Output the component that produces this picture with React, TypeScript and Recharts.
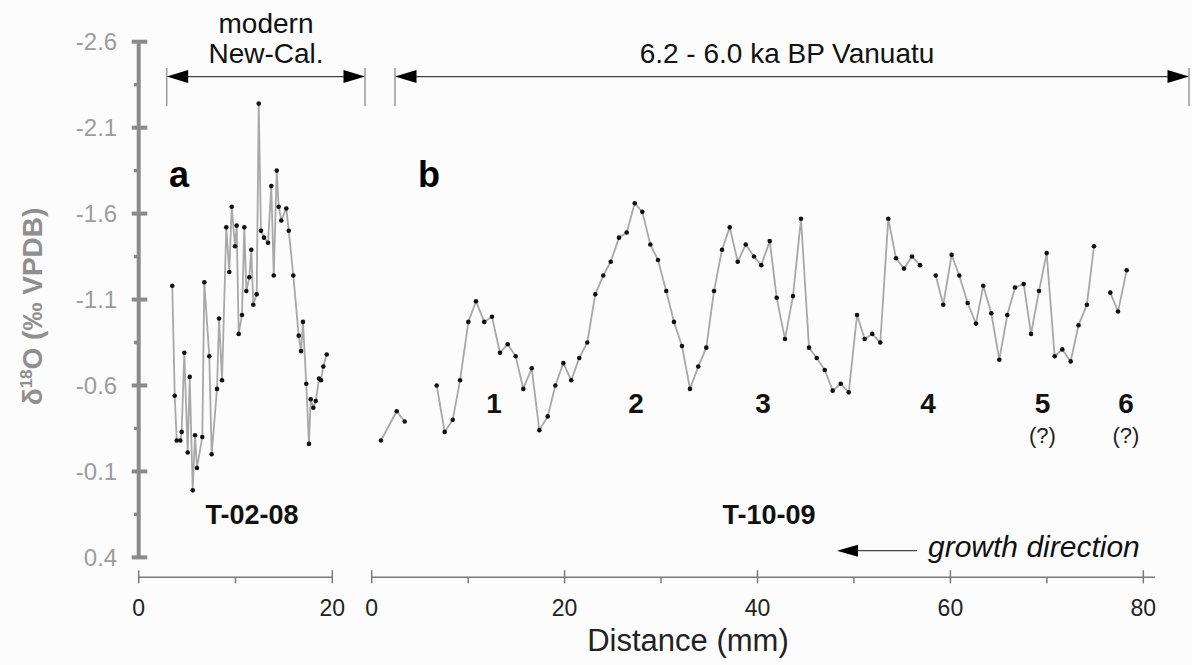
import React from 'react';
import { LineChart, Line, XAxis, YAxis, ReferenceLine } from 'recharts';

// ---------- data ----------
// Panel a: modern New-Caledonia coral T-02-08
const A_DISTANCE = [3.47, 3.72, 3.93, 4.30, 4.44, 4.71, 5.06, 5.27, 5.58, 5.82, 6.02, 6.57, 6.78, 7.29, 7.54, 8.09, 8.30, 8.61, 9.05, 9.36, 9.61, 9.95, 10.12, 10.33, 10.67, 10.91, 11.12, 11.43, 11.63, 11.84, 12.19, 12.40, 12.63, 12.94, 13.36, 13.70, 13.95, 14.26, 14.46, 14.73, 15.25, 15.50, 15.97, 16.53, 16.77, 16.97, 17.31, 17.59, 17.77, 18.04, 18.29, 18.63, 18.83, 19.07, 19.42];
const A_D18O = [-1.18, -0.54, -0.28, -0.28, -0.33, -0.79, -0.21, -0.65, 0.01, -0.31, -0.12, -0.30, -1.20, -0.77, -0.20, -0.58, -0.99, -0.63, -1.52, -1.26, -1.64, -1.41, -1.53, -0.90, -1.01, -1.52, -1.15, -1.23, -1.39, -1.07, -1.13, -2.24, -1.50, -1.46, -1.43, -1.76, -1.24, -1.85, -1.64, -1.56, -1.63, -1.50, -1.24, -0.89, -0.80, -0.97, -0.61, -0.26, -0.52, -0.47, -0.51, -0.64, -0.63, -0.71, -0.78];

// Panel b: 6.2-6.0 ka BP Vanuatu coral T-10-09 (four continuous segments)
const B1_DISTANCE = [0.96, 2.59, 3.42];
const B1_D18O = [-0.28, -0.45, -0.39];
const B2_DISTANCE = [6.74, 7.57, 8.40, 9.16, 10.02, 10.81, 11.67, 12.47, 13.30, 14.10, 14.93, 15.72, 16.59, 17.38, 18.25, 19.04, 19.87, 20.69, 21.52, 22.35, 23.18, 24.01, 24.78, 25.64, 26.44, 27.27, 28.06, 28.89, 29.68, 30.54, 31.34, 32.17, 33.00, 33.86, 34.69, 35.49, 36.32, 37.12, 37.95, 38.78, 39.64, 40.39, 41.27, 41.99, 42.85, 43.68, 44.51, 45.34, 46.14, 46.97, 47.80, 48.63, 49.46, 50.32, 51.11, 51.90, 52.73, 53.56, 54.36, 55.19, 56.02, 56.85];
const B2_D18O = [-0.60, -0.33, -0.40, -0.63, -0.97, -1.09, -0.97, -1.00, -0.79, -0.84, -0.77, -0.58, -0.70, -0.34, -0.42, -0.60, -0.73, -0.63, -0.76, -0.85, -1.13, -1.24, -1.32, -1.46, -1.49, -1.66, -1.61, -1.42, -1.33, -1.15, -0.97, -0.83, -0.58, -0.71, -0.82, -1.15, -1.39, -1.52, -1.32, -1.42, -1.35, -1.30, -1.44, -1.11, -0.87, -1.12, -1.57, -0.82, -0.76, -0.69, -0.57, -0.61, -0.56, -1.01, -0.87, -0.90, -0.85, -1.57, -1.34, -1.28, -1.35, -1.30];
const B3_DISTANCE = [58.48, 59.26, 60.13, 60.92, 61.79, 62.65, 63.41, 64.24, 65.07, 65.90, 66.70, 67.60, 68.36, 69.19, 69.98, 70.81, 71.60, 72.47, 73.28, 74.15, 74.89];
const B3_D18O = [-1.24, -1.07, -1.36, -1.24, -1.08, -0.96, -1.18, -1.02, -0.75, -1.01, -1.17, -1.19, -0.90, -1.15, -1.37, -0.77, -0.81, -0.74, -0.95, -1.07, -1.41];
const B4_DISTANCE = [76.58, 77.38, 78.28];
const B4_D18O = [-1.14, -1.03, -1.27];

// ---------- axes / labels ----------
const Y_DOMAIN: [number, number] = [-2.6, 0.516];
const Y_TICKS = [-2.6, -2.35, -2.1, -1.85, -1.6, -1.35, -1.1, -0.85, -0.6, -0.35, -0.1, 0.15, 0.4];
const Y_LABELED = [-2.6, -2.1, -1.6, -1.1, -0.6, -0.1, 0.4];
const A_X_TICKS = [0, 10, 20];
const A_X_LABELED = [0, 20];
const B_X_TICKS = [0, 10, 20, 30, 40, 50, 60, 70, 80];
const B_X_LABELED = [0, 20, 40, 60, 80];

const FONT = '"Liberation Sans", Arial, Helvetica, sans-serif';
const AXIS_GRAY = '#8a8a8a';
const XAXIS_GRAY = '#7a7a7a';
const LINE_GRAY = '#a8a8a8';

const zip = (xs: number[], ys: number[]) => xs.map((x, i) => ({ x, y: ys[i] }));

const A_DATA = zip(A_DISTANCE, A_D18O);
const B_SEGMENTS = [
  zip(B1_DISTANCE, B1_D18O),
  zip(B2_DISTANCE, B2_D18O),
  zip(B3_DISTANCE, B3_D18O),
  zip(B4_DISTANCE, B4_D18O),
];

const DOT = { r: 2.3, fill: '#111', stroke: 'none' };

function YTick(props: any) {
  const { x, y, payload } = props;
  const v = payload.value as number;
  const major = Y_LABELED.some((t) => Math.abs(t - v) < 1e-6);
  if (major) {
    return (
      <g>
        <line x1={x - 7} x2={x + 8.6} y1={y} y2={y} stroke={AXIS_GRAY} strokeWidth={4} />
        <text x={x - 21.5} y={y} dy="0.36em" textAnchor="end" fontSize={24} fill="#9c9c9c" fontFamily={FONT}>
          {v.toFixed(1)}
        </text>
      </g>
    );
  }
  return <line x1={x - 4.7} x2={x + 1} y1={y} y2={y} stroke={AXIS_GRAY} strokeWidth={3.5} />;
}

const makeXTick = (labeled: number[]) => (props: any) => {
  const { x, y, payload } = props;
  const v = payload.value as number;
  const major = labeled.includes(v);
  return (
    <g>
      {major ? (
        <line x1={x} x2={x} y1={y - 7} y2={y + 6} stroke={XAXIS_GRAY} strokeWidth={1.5} />
      ) : (
        <line x1={x} x2={x} y1={y} y2={y + 6} stroke={XAXIS_GRAY} strokeWidth={1.5} />
      )}
      {major && (
        <text x={x} y={y + 39} textAnchor="middle" fontSize={23} fill="#222" fontFamily={FONT}>
          {v}
        </text>
      )}
    </g>
  );
};

const XTickA = makeXTick(A_X_LABELED);
const XTickB = makeXTick(B_X_LABELED);

function Arrow({ x1, x2, y }: { x1: number; x2: number; y: number }) {
  return (
    <g>
      <line x1={x1} x2={x1} y1={68} y2={106} stroke="#9a9a9a" strokeWidth={1.5} />
      <line x1={x2} x2={x2} y1={68} y2={106} stroke="#9a9a9a" strokeWidth={1.5} />
      <line x1={x1 + 10} x2={x2 - 10} y1={y} y2={y} stroke="#444" strokeWidth={1.3} />
      <polygon points={`${x1},${y} ${x1 + 21.5},${y - 6.5} ${x1 + 21.5},${y + 6.5}`} fill="#000" />
      <polygon points={`${x2},${y} ${x2 - 21.5},${y - 6.5} ${x2 - 21.5},${y + 6.5}`} fill="#000" />
    </g>
  );
}

export default function App() {
  return (
    <div
      style={{
        position: 'absolute',
        left: 0,
        top: 0,
        width: 1192,
        height: 665,
        background: '#fcfcfc',
        overflow: 'hidden',
        fontFamily: FONT,
      }}
    >
      {/* Panel a */}
      <div style={{ position: 'absolute', left: 0, top: 0 }}>
        <LineChart
          width={345}
          height={665}
          data={A_DATA}
          margin={{ top: 41.7, right: 12.7, bottom: 0, left: 0 }}
        >
          <XAxis
            dataKey="x"
            type="number"
            domain={[0, 20]}
            allowDataOverflow
            ticks={A_X_TICKS}
            interval={0}
            height={87.7}
            tickSize={0}
            tickMargin={0}
            tickLine={false}
            axisLine={{ stroke: XAXIS_GRAY, strokeWidth: 1.5 }}
            tick={XTickA}
          />
          <YAxis
            type="number"
            domain={Y_DOMAIN}
            allowDataOverflow
            reversed
            ticks={Y_TICKS}
            interval={0}
            width={138.7}
            tickSize={0}
            tickMargin={0}
            tickLine={false}
            axisLine={false}
            tick={YTick}
          />
          <ReferenceLine
            segment={[
              { x: 0, y: -2.6 },
              { x: 0, y: 0.4 },
            ]}
            stroke={AXIS_GRAY}
            strokeWidth={4}
            ifOverflow="visible"
          />
          <Line
            dataKey="y"
            type="linear"
            stroke={LINE_GRAY}
            strokeWidth={1.8}
            dot={DOT}
            activeDot={false}
            isAnimationActive={false}
          />
        </LineChart>
      </div>

      {/* Panel b */}
      <div style={{ position: 'absolute', left: 360, top: 0 }}>
        <LineChart width={845} height={665} margin={{ top: 41.7, right: 50, bottom: 0, left: 11.7 }}>
          <XAxis
            dataKey="x"
            type="number"
            domain={[0, 80]}
            allowDataOverflow
            ticks={B_X_TICKS}
            interval={0}
            height={87.7}
            padding={{ left: 0, right: 11.7 }}
            tickSize={0}
            tickMargin={0}
            tickLine={false}
            axisLine={{ stroke: XAXIS_GRAY, strokeWidth: 1.5 }}
            tick={XTickB}
          />
          <YAxis type="number" domain={Y_DOMAIN} allowDataOverflow reversed hide />
          {B_SEGMENTS.map((seg, i) => (
            <Line
              key={i}
              data={seg}
              dataKey="y"
              type="linear"
              stroke={LINE_GRAY}
              strokeWidth={1.8}
              dot={DOT}
              activeDot={false}
              isAnimationActive={false}
            />
          ))}
        </LineChart>
      </div>

      {/* annotations */}
      <svg
        width={1192}
        height={665}
        style={{ position: 'absolute', left: 0, top: 0, pointerEvents: 'none' }}
        fontFamily={FONT}
      >
        <text x={266} y={32.5} textAnchor="middle" fontSize={28} fill="#111">modern</text>
        <text x={266} y={62.5} textAnchor="middle" fontSize={28} fill="#111">New-Cal.</text>
        <text x={787} y={62.5} textAnchor="middle" fontSize={28} fill="#111">6.2 - 6.0 ka BP Vanuatu</text>
        <Arrow x1={166.7} x2={365} y={76.6} />
        <Arrow x1={395} x2={1189} y={76.6} />

        <text x={179} y={187} textAnchor="middle" fontSize={36} fontWeight="bold" fill="#000">a</text>
        <text x={429} y={187} textAnchor="middle" fontSize={36} fontWeight="bold" fill="#000">b</text>

        <text x={494} y={413} textAnchor="middle" fontSize={28} fontWeight="bold" fill="#111">1</text>
        <text x={636} y={413} textAnchor="middle" fontSize={28} fontWeight="bold" fill="#111">2</text>
        <text x={763} y={413} textAnchor="middle" fontSize={28} fontWeight="bold" fill="#111">3</text>
        <text x={928} y={413} textAnchor="middle" fontSize={28} fontWeight="bold" fill="#111">4</text>
        <text x={1042.5} y={413} textAnchor="middle" fontSize={28} fontWeight="bold" fill="#111">5</text>
        <text x={1126} y={413} textAnchor="middle" fontSize={28} fontWeight="bold" fill="#111">6</text>
        <text x={1042.5} y={443} textAnchor="middle" fontSize={22} fill="#222">(?)</text>
        <text x={1126} y={443} textAnchor="middle" fontSize={22} fill="#222">(?)</text>

        <text x={252} y={524} textAnchor="middle" fontSize={27} fontWeight="bold" fill="#111">T-02-08</text>
        <text x={769} y={524} textAnchor="middle" fontSize={27} fontWeight="bold" fill="#111">T-10-09</text>

        <line x1={852} x2={917} y1={550.7} y2={550.7} stroke="#444" strokeWidth={1.3} />
        <polygon points="837,550.7 858,544.7 858,556.7" fill="#000" />
        <text x={928} y={557} fontSize={30} fontStyle="italic" fill="#111">growth direction</text>

        <text x={688} y={651} textAnchor="middle" fontSize={31} fill="#222">Distance (mm)</text>

        <text
          transform="translate(42,306.5) rotate(-90)"
          x={0}
          y={0}
          textAnchor="middle"
          fontSize={28}
          fontWeight="bold"
          fill="#8f8f8f"
        >
          δ<tspan dy={-10} fontSize={17}>18</tspan>
          <tspan dy={10}>O (‰ VPDB)</tspan>
        </text>
      </svg>
    </div>
  );
}
